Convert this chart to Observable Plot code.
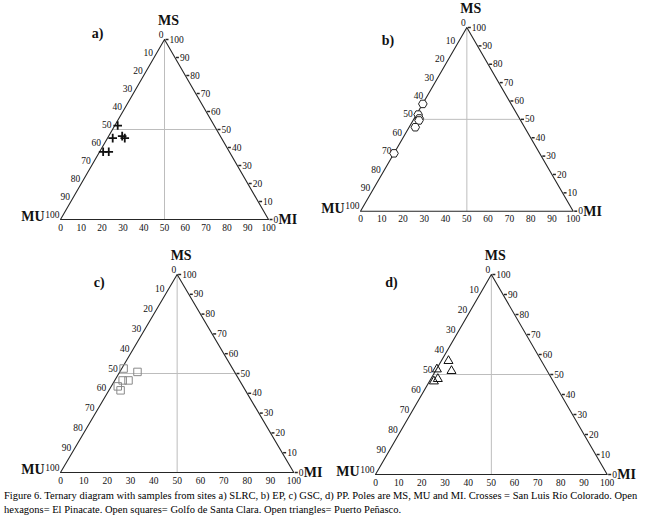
<!DOCTYPE html>
<html><head><meta charset="utf-8">
<script src="https://cdn.jsdelivr.net/npm/d3@7"></script>
<script src="https://cdn.jsdelivr.net/npm/@observablehq/plot@0.6"></script>
<style>
body{margin:0;background:#fff;}
#wrap{position:relative;width:654px;height:520px;background:#fff;}
#caption{position:absolute;left:4px;top:489px;width:650px;font-family:'Liberation Serif','Times New Roman',Times,serif;font-size:10.5px;line-height:14px;color:#000;}
svg text{font-family:'Liberation Serif','Times New Roman',Times,serif;}
</style></head><body>
<div id="wrap"></div>
<script>
// ---- data ----
const ticks = [0,10,20,30,40,50,60,70,80,90,100];
const poleTop = "MS", poleLeft = "MU", poleRight = "MI";
const panelLabels = ["a)","b)","c)","d)"];
// sample compositions: MS % and MI % (MU = 100 - MS - MI)
const slrcMS = [52.2,45.2,46.3,45.2,37.6,37.6];
const slrcMI = [1.4,2.5,6.5,8.3,1.7,4.4];
const epMS = [58.4,52.6,50.5,49.4,45.7,31.5];
const epMI = [0.1,0.8,2.4,2.8,2.9,0.0];
const gscMS = [52.5,50.8,46.5,46.5,43.5,41.5];
const gscMI = [0.8,7.6,3.4,5.9,2.8,5.0];
const ppMS = [56.8,52.6,51.8,47.8,46.6];
const ppMI = [3.1,0.2,6.9,3.0,1.9];
const captionText = "Figure 6. Ternary diagram with samples from sites a)  SLRC, b) EP, c) GSC, d) PP. Poles are MS, MU and MI. Crosses = San Luis Río Colorado. Open hexagons= El Pinacate. Open squares= Golfo de Santa Clara. Open triangles= Puerto Peñasco.";

// ---- symbols ----
const rad = s => Math.sqrt(s/Math.PI);
const plusSym = {draw(c,s){const r=rad(s);c.moveTo(-r,0);c.lineTo(r,0);c.moveTo(0,-r);c.lineTo(0,r);}};
const hexSym = {draw(c,s){const r=rad(s);for(let k=0;k<6;k++){const a=k*Math.PI/3;const px=r*Math.cos(a),py=r*Math.sin(a);k?c.lineTo(px,py):c.moveTo(px,py);}c.closePath();}};
const sqSym = {draw(c,s){const r=rad(s)*0.85;c.rect(-r,-r,2*r,2*r);}};
const triSym = {draw(c,s){const r=rad(s);c.moveTo(0,-r);c.lineTo(r*0.866,r*0.5);c.lineTo(-r*0.866,r*0.5);c.closePath();}};
const dashSym = {draw(c,s){const r=rad(s);c.moveTo(0,0);c.lineTo(r,0);}};

const H = Math.sqrt(3)/2;
const F = "'Liberation Serif','Times New Roman',Times,serif";

function panel(cfg, ms, mi, sym) {
  const pts = ms.map((m,i)=>({x: mi[i] + m/2, y: m*H}));
  const corners = [[100,0],[0,0],[0,100],[100,0]].map(([m,i])=>({x:i+m/2,y:m*H}));
  const left = ticks.map(v=>({v, x:(100-v)/2, y:(100-v)*H}));
  const right = ticks.map(v=>({v, x:100-v/2, y:v*H}));
  const bottom = ticks.map(v=>({v, x:v, y:0}));
  const grid = [{x1:50,y1:0,x2:50,y2:100*H},{x1:25,y1:50*H,x2:75,y2:50*H}];
  const svg = Plot.plot({
    width: cfg.w, height: cfg.h,
    x:{domain:[0,100], range:cfg.x, axis:null},
    y:{domain:[0,100*H], range:cfg.y, axis:null},
    style:{fontFamily:F, background:"transparent", overflow:"visible"},
    marks:[
      Plot.link(grid,{x1:"x1",y1:"y1",x2:"x2",y2:"y2",stroke:"#bdbdbd",strokeWidth:1}),
      Plot.line(corners,{x:"x",y:"y",stroke:"#262626",strokeWidth:1.1}),
      Plot.dot(right,{x:"x",y:"y",symbol:dashSym,r:3,stroke:"#262626",fill:"none",dx:1}),
      Plot.text(left,{x:"x",y:"y",text:"v",textAnchor:"end",dx:-1,dy:-5,fontSize:9.5,fontFamily:F,fill:"#111"}),
      Plot.text(right,{x:"x",y:"y",text:"v",textAnchor:"start",dx:5,dy:0,fontSize:9.5,fontFamily:F,fill:"#111"}),
      Plot.text(bottom,{x:"x",y:"y",text:"v",textAnchor:"middle",dy:8,fontSize:9.5,fontFamily:F,fill:"#111"}),
      Plot.text([corners[0]],{x:"x",y:"y",text:()=>poleTop,dx:4,dy:-19,fontSize:14,fontWeight:"bold",fontFamily:F,fill:"#111"}),
      Plot.text([corners[1]],{x:"x",y:"y",text:()=>poleLeft,textAnchor:"end",dx:-16,dy:-3,fontSize:14,fontWeight:"bold",fontFamily:F,fill:"#111"}),
      Plot.text([corners[2]],{x:"x",y:"y",text:()=>poleRight,textAnchor:"start",dx:10,dy:0,fontSize:14,fontWeight:"bold",fontFamily:F,fill:"#111"}),
      Plot.text([corners[0]],{x:"x",y:"y",text:()=>cfg.label,dx:cfg.lab[0],dy:cfg.lab[1],fontSize:14,fontWeight:"bold",fontFamily:F,fill:"#111"}),
      Plot.dot(pts,{x:"x",y:"y",symbol:sym.symbol,r:sym.r,stroke:sym.stroke,fill:sym.fill,strokeWidth:sym.sw})
    ]
  });
  svg.style.position = "absolute";
  svg.style.left = cfg.left + "px";
  svg.style.top = cfg.top + "px";
  return svg;
}

const wrap = document.getElementById("wrap");
wrap.append(panel({left:0,top:0,w:327,h:240,x:[60,268],y:[219,39],lab:[-67,-6],label:panelLabels[0]}, slrcMS, slrcMI,
  {symbol:plusSym,r:4.3,stroke:"#111",fill:"none",sw:1.8}));
wrap.append(panel({left:327,top:0,w:327,h:240,x:[33,245.7],y:[210.7,27],lab:[-79,13],label:panelLabels[1]}, epMS, epMI,
  {symbol:hexSym,r:4.3,stroke:"#222",fill:"white",sw:1}));
wrap.append(panel({left:0,top:240,w:327,h:245,x:[60,293.3],y:[232,34],lab:[-78,8],label:panelLabels[2]}, gscMS, gscMI,
  {symbol:sqSym,r:4.4,stroke:"#8a8a8a",fill:"none",sw:1}));
wrap.append(panel({left:327,top:240,w:327,h:245,x:[48,279.7],y:[234,34],lab:[-100,8],label:panelLabels[3]}, ppMS, ppMI,
  {symbol:triSym,r:5.2,stroke:"#111",fill:"none",sw:1}));

const cap = document.createElement("div");
cap.id = "caption";
cap.textContent = captionText;
wrap.append(cap);
</script>
</body></html>
